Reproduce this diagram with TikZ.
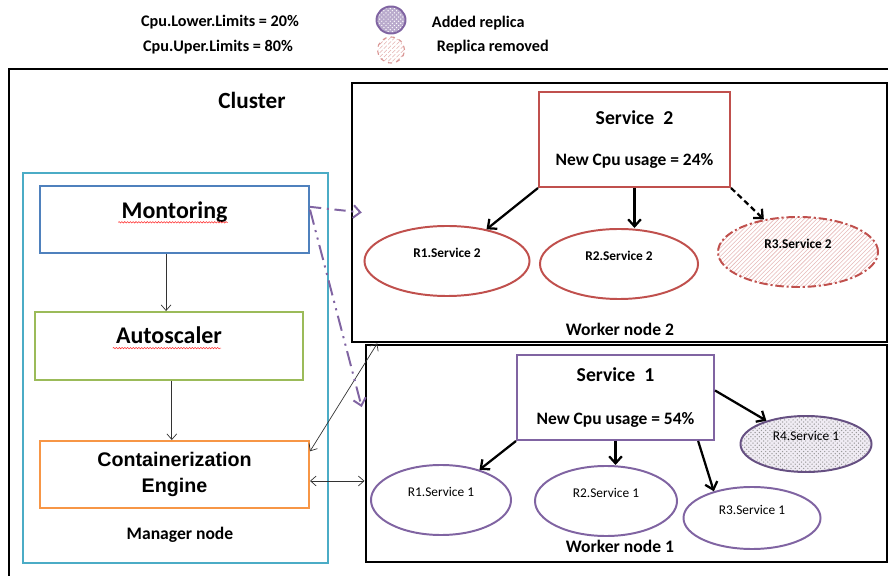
\documentclass[tikz,border=0pt]{standalone}
\usepackage{fontspec}
\setmainfont{Carlito}
\newfontfamily\arialfont{Liberation Sans}
\usetikzlibrary{shapes.geometric,arrows.meta,patterns,decorations.pathmorphing}

\definecolor{mpurple}{HTML}{8064A2}
\definecolor{offred}{HTML}{C0504D}
\definecolor{mblue}{HTML}{4F81BD}
\definecolor{mgreen}{HTML}{9BBB59}
\definecolor{morange}{HTML}{F79646}
\definecolor{mcyan}{HTML}{4BACC6}

\begin{document}
\begin{tikzpicture}[x=0.025cm, y=-0.025cm,
    module/.style={draw, line width=1.4pt, minimum width=6.725cm, minimum height=1.675cm, inner sep=0pt, font=\bfseries\fontsize{17}{20}\selectfont},
    service/.style={draw, line width=1.4pt, inner sep=0pt, align=center, font=\bfseries\fontsize{12.4}{15}\selectfont},
    replica/.style={ellipse, draw, line width=1.4pt, inner sep=0pt, text depth=12pt, font=\fontsize{9.5}{11}\selectfont},
    heading/.style={font=\bfseries\fontsize{12.5}{15}\selectfont},
    legtext/.style={font=\bfseries\fontsize{11.5}{14}\selectfont},
    flow/.style={-{Straight Barb[length=4pt,width=7pt]}, line width=0.5pt, black!80},
    duplex/.style={{Straight Barb[length=4pt,width=7pt]}-{Straight Barb[length=4pt,width=7pt]}, line width=0.5pt, black!80},
    spawn/.style={-{Straight Barb[length=5pt,width=9pt]}, line width=1.6pt},
    probe/.style={-{Straight Barb[length=5pt,width=9pt]}, line width=1.4pt, mpurple},
    squig/.style={draw=red!80, line width=0.4pt, decorate, decoration={snake, amplitude=0.5pt, segment length=2pt}}]

    \useasboundingbox (0,0) rectangle (888,576);

    % Legend
    \node[legtext] (lowlim) at (220,22) {Cpu.Lower.Limits = 20\%};
    \node[legtext] (uplim) at (218,47) {Cpu.Uper.Limits = 80\%};
    \node[ellipse, draw=mpurple, line width=1.4pt, minimum width=0.725cm, minimum height=0.675cm, inner sep=0pt,
          preaction={fill=mpurple!55}, pattern=crosshatch dots, pattern color=white] (addleg) at (391,20) {};
    \node[legtext, anchor=west] (addtxt) at (427,23) {Added replica};
    \node[ellipse, draw=offred!60, dashed, line width=0.8pt, minimum width=0.675cm, minimum height=0.65cm, inner sep=0pt,
          pattern=north east lines, pattern color=offred!45] (remleg) at (391,50) {};
    \node[legtext, anchor=west] (remtxt) at (432,47) {Replica removed};

    % Cluster frame
    \draw[line width=2pt] (9,576) -- (9,69) -- (888,69);
    \node[font=\bfseries\fontsize{16.5}{20}\selectfont] (cluster) at (252,100) {Cluster};

    % Manager node
    \node[draw=mcyan, line width=1.4pt, minimum width=7.625cm, minimum height=9.75cm, inner sep=0pt] (mgr) at (175.5,368) {};
    \node[heading] (mgrtxt) at (180,535) {Manager node};

    \node[module, draw=mblue, text depth=14pt] (mon) at (174.5,219.5) {Montoring};
    \node[module, draw=mgreen, minimum width=6.7cm, minimum height=1.7cm, text depth=16pt] (auto) at (169,346) {Autoscaler};
    \node[module, draw=morange, align=center, font=\arialfont\bfseries\fontsize{14}{19}\selectfont] (cont) at (174.5,474.5) {Containerization\\Engine};

    % spell check marks
    \draw[squig] ([xshift=-40pt,yshift=-2pt]mon.center) -- ([xshift=38pt,yshift=-2pt]mon.center);
    \draw[squig] ([xshift=-40pt,yshift=-1.5pt]auto.center) -- ([xshift=37pt,yshift=-1.5pt]auto.center);

    % Worker nodes
    \node[draw, line width=2pt, minimum width=13.375cm, minimum height=6.475cm, inner sep=0pt] (wn2) at (619.5,212.5) {};
    \node[heading] (wn2txt) at (620,329) {Worker node 2};
    \node[draw, line width=2pt, minimum width=13.025cm, minimum height=5.425cm, inner sep=0pt] (wn1) at (626.5,453.5) {};
    \node[heading] (wn1txt) at (620,546) {Worker node 1};

    % Service 2 and its replicas
    \node[service, draw=offred, minimum width=4.775cm, minimum height=2.375cm] (svc2) at (634.5,139.5)
        {{\fontsize{14}{17}\selectfont Service\ \ 2}\\[14pt]New Cpu usage = 24\%};
    \node[replica, draw=offred, font=\bfseries\fontsize{9.5}{11}\selectfont, minimum width=4.125cm, minimum height=1.75cm] (s2r1) at (447,261) {R1.Service 2};
    \node[replica, draw=offred, font=\bfseries\fontsize{9.5}{11}\selectfont, minimum width=3.95cm, minimum height=1.75cm] (s2r2) at (619,264) {R2.Service 2};
    \node[replica, draw=offred, font=\bfseries\fontsize{9.5}{11}\selectfont, minimum width=4cm, minimum height=1.75cm,
          dash pattern=on 6pt off 2pt on 1.5pt off 2pt, pattern=north east lines, pattern color=offred!40] (s2r3) at (798,252) {R3.Service 2};

    % Service 1 and its replicas
    \node[service, draw=mpurple, minimum width=4.925cm, minimum height=2.125cm] (svc1) at (615.5,397.5)
        {{\fontsize{14}{17}\selectfont Service\ \ 1}\\[15.5pt]New Cpu usage = 54\%};
    \node[replica, draw=mpurple, minimum width=3.5cm, minimum height=1.75cm] (s1r1) at (441,500) {R1.Service 1};
    \node[replica, draw=mpurple, minimum width=3.55cm, minimum height=1.75cm] (s1r2) at (606,501) {R2.Service 1};
    \node[replica, draw=mpurple, minimum width=3.425cm, minimum height=1.55cm] (s1r3) at (752,518) {R3.Service 1};
    \node[replica, draw=mpurple!80!black, minimum width=3.275cm, minimum height=1.4cm,
          preaction={fill=mpurple!12}, pattern=crosshatch dots, pattern color=black!40] (s1r4) at (806,444) {R4.Service 1};

    % Manager arrows
    \draw[flow] ([xshift=-6pt]mon.south) -- ([xshift=-6pt]mon.south |- auto.north);
    \draw[flow] ([xshift=2pt]auto.south) -- ([xshift=2pt]auto.south |- cont.north);
    \draw[duplex] ([yshift=-4.6pt]cont.east) -- ([yshift=-4.6pt]cont.east -| wn1.west);
    \draw[duplex] ([yshift=-8pt]cont.north east) -- ([xshift=19pt]wn2.south west);

    % Monitoring probes
    \draw[probe, dash pattern=on 8pt off 4pt on 1.5pt off 4pt] ([yshift=9pt]mon.east) -- ([xshift=8pt]wn2.west);
    \draw[probe, dash pattern=on 11pt off 4pt on 1.5pt off 4pt on 1.5pt off 4pt] ([yshift=7pt]mon.east) -- ([xshift=-2pt,yshift=33pt]wn1.west);

    % Replica arrows
    \draw[spawn] (svc2.south west) -- (s2r1);
    \draw[spawn] (svc2.south) -- (svc2.south |- s2r2.north);
    \draw[spawn, dash pattern=on 4pt off 2.5pt] (svc2.south east) -- (s2r3);
    \draw[spawn] (svc1.south west) -- (s1r1);
    \draw[spawn] (svc1.south) -- (svc1.south |- s1r2.north);
    \draw[spawn] ([xshift=-12pt]svc1.south east) -- (s1r3.145);
    \draw[spawn] ([yshift=5pt]svc1.east) -- (s1r4);

\end{tikzpicture}
\end{document}
